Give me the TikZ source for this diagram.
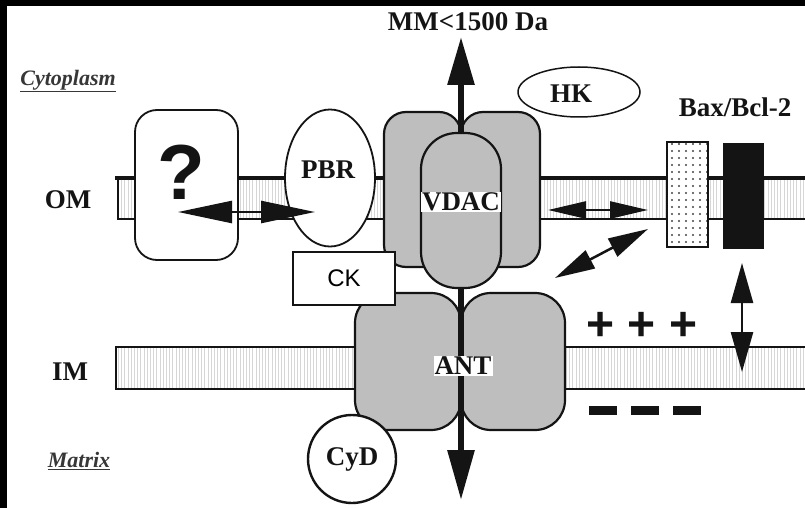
\documentclass[tikz,border=0pt]{standalone}
\usepackage{fontspec}
\setmainfont{Liberation Serif}
\setsansfont{Liberation Sans}
\usetikzlibrary{arrows.meta,patterns.meta,shapes.geometric}
\definecolor{ink}{HTML}{141414}
\definecolor{protein}{HTML}{BEBEBE}
\definecolor{lipid}{HTML}{D6D6D6}
\tikzset{
  lobe/.style={draw=ink,line width=2.2pt,fill=protein,inner sep=0pt,outer sep=0pt,rounded corners=#1},
  lobe/.default=22pt,
  plain/.style={draw=ink,line width=1.8pt,fill=white,inner sep=0pt,outer sep=0pt},
  word/.style={font=\fontsize{27}{30}\selectfont\bfseries,text=ink,inner sep=1pt},
  region/.style={font=\fontsize{22}{26}\selectfont\bfseries\itshape,text=ink!85,inner sep=1pt},
  bilayer/.style={pattern={Lines[angle=90,distance=3.2pt,line width=0.8pt]},pattern color=lipid},
  flux/.style={line width=6pt,draw=ink,-{Triangle[length=#1,width=26pt]}},
  flux/.default=48pt,
  exchange/.style args={#1/#2}{line width=2.5pt,draw=ink,{Triangle[length=#1,width=#2]}-{Triangle[length=#1,width=#2]}},
  charge/.style={font=\sffamily\bfseries\fontsize{48}{48}\selectfont,text=ink,inner sep=0pt},
}
\begin{document}
\begin{tikzpicture}[x=1pt,y=-1pt]
  \useasboundingbox (0,0) rectangle (805,508);
  \fill[black] (0,0) rectangle (805,508);
  \fill[white] (7,6) rectangle (805,508);
  % outer and inner membrane
  \fill[bilayer] (118,178) rectangle (805,219);
  \fill[bilayer] (116,347) rectangle (805,389);
  \draw[ink,line width=4pt] (115,178) -- (805,178);
  \draw[ink,line width=2pt] (118,178) -- (118,219) -- (805,219);
  \draw[ink,line width=2.4pt] (805,347) -- (116,347) -- (116,389) -- (805,389);
  \node[plain,line width=1.5pt,ellipse,minimum width=122pt,minimum height=50pt,word] (hk) at (579,92) {};
  \node[word] (hktag) at (571,94) {HK};
  \node[lobe,minimum width=77pt,minimum height=155pt] (vdacL) at (422.5,189.5) {};
  \node[lobe,minimum width=79pt,minimum height=155pt] (vdacR) at (500.5,189.5) {};
  \node[lobe=36pt,minimum width=80pt,minimum height=155pt] (vdacpore) at (461,210.5) {};
  \node[lobe=30pt,minimum width=106pt,minimum height=137pt] (antL) at (408,361.5) {};
  \node[lobe=30pt,minimum width=104pt,minimum height=137pt] (antR) at (513,361.5) {};
  \node[plain,rounded corners=22pt,minimum width=103pt,minimum height=150pt] (query) at (186.5,185) {};
  \node[font=\sffamily\bfseries\fontsize{78}{78}\selectfont,text=ink] (qmark) at (181,172) {?};
  \node[plain,ellipse,minimum width=90pt,minimum height=137pt] (pbr) at (330,178) {};
  \node[word] (pbrtag) at (328,170) {PBR};
  \node[plain,line width=1.5pt,minimum width=102pt,minimum height=53pt,font=\sffamily\fontsize{24}{24}\selectfont] (ck) at (344,278.5) {CK};
  \node[plain,line width=2.4pt,circle,minimum size=88pt,word] (cyd) at (352,459) {CyD};
  \node[plain,line width=1.5pt,minimum width=41pt,minimum height=105pt,preaction={fill=white},pattern={Dots[distance=7pt,radius=1.2pt]},pattern color=ink!80] (bax) at (687.5,194.5) {};
  \node[draw=ink,fill=ink,minimum width=40pt,minimum height=105pt,inner sep=0pt] (bcl) at (743,195.5) {};
  % transport and interactions
  \coordinate (poretop) at (461,37);
  \coordinate (porebot) at (461,500);
  \draw[flux] (vdacpore.north) -- (poretop);
  \draw[flux=50pt] (vdacpore.south) -- (porebot);
  \coordinate (q1) at (178,212);
  \coordinate (q2) at (315,212);
  \coordinate (v1) at (548,210);
  \coordinate (v2) at (648,210);
  \coordinate (d1) at (555,278);
  \coordinate (d2) at (648,229);
  \coordinate (b1) at (742,263);
  \coordinate (b2) at (742,372);
  \draw[exchange=54pt/22pt] (q1) -- (q2);
  \draw[exchange=38pt/17pt] (v1) -- (v2);
  \draw[exchange=40pt/20pt] (d1) -- (d2);
  \draw[exchange=40pt/22pt] (b1) -- (b2);
  \node[word,fill=white] (vdactag) at (461,202) {VDAC};
  \node[word,fill=white] (anttag) at (463,366) {ANT};
  \foreach \x [count=\i] in {601,642,684}
    \node[charge] (plus\i) at (\x,326) {+};
  \foreach \x [count=\i] in {603,645,687}
    \node[inner sep=0pt] (minus\i) at (\x,410) {\color{ink}\rule{28pt}{9pt}};
  \node[word] (mm) at (468,22) {MM<1500 Da};
  \node[word] (baxtag) at (735,107) {Bax/Bcl-2};
  \node[word] (om) at (68,200) {OM};
  \node[word] (im) at (70,372) {IM};
  \node[region] (cyto) at (68,81) {\underline{Cytoplasm}};
  \node[region] (matrix) at (79,461) {\underline{Matrix}};
\end{tikzpicture}
\end{document}
